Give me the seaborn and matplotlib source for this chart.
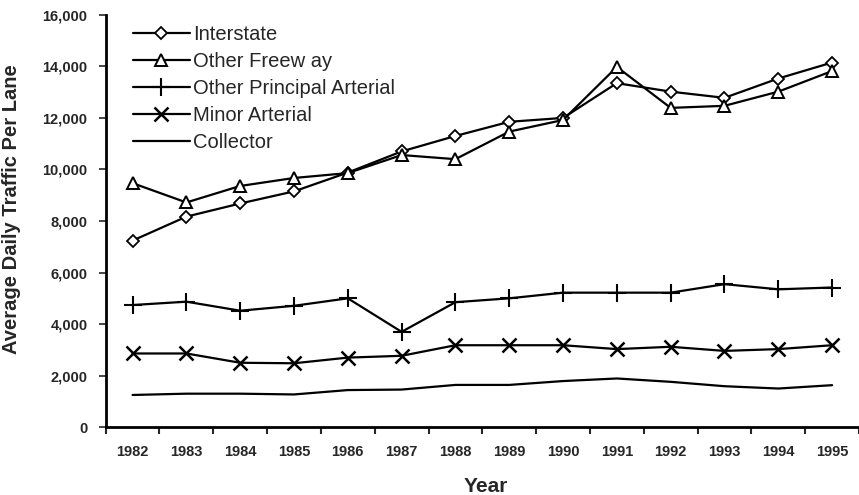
import numpy as np
import pandas as pd
import matplotlib
matplotlib.use("Agg")
import matplotlib.pyplot as plt
import seaborn as sns

# === DATA
years = [str(y) for y in range(1982, 1996)]
interstate = [7240, 8170, 8680, 9150, 9880, 10700, 11300, 11850, 12000, 13350, 13020, 12780, 13530, 14150]
other_freeway = [9470, 8720, 9360, 9670, 9860, 10560, 10400, 11470, 11920, 13980, 12390, 12470, 13020, 13820]
other_principal = [4740, 4870, 4520, 4710, 5000, 3700, 4850, 5000, 5220, 5220, 5220, 5550, 5350, 5420]
minor_arterial = [2860, 2860, 2500, 2480, 2700, 2770, 3180, 3180, 3180, 3030, 3120, 2960, 3030, 3180]
collector = [1250, 1300, 1300, 1270, 1440, 1460, 1640, 1640, 1790, 1890, 1760, 1590, 1500, 1630]

series_names = ["Interstate", "Other Freew ay", "Other Principal Arterial", "Minor Arterial", "Collector"]
series_vals = [interstate, other_freeway, other_principal, minor_arterial, collector]

df = pd.DataFrame({
    "Year": years * len(series_names),
    "idx": list(range(len(years))) * len(series_names),
    "Series": [n for n in series_names for _ in years],
    "Traffic": [v for s in series_vals for v in s],
})

sns.set_style("ticks")
plt.rcParams["font.family"] = ["Liberation Sans", "DejaVu Sans"]

fig = plt.figure(figsize=(8.59, 4.95), dpi=100)
ax = fig.add_axes([0.123, 0.137, 0.877, 0.833])

sns.lineplot(data=df, x="idx", y="Traffic", hue="Series", hue_order=series_names,
             palette=["black"] * len(series_names), ax=ax, lw=1.6, legend=False)

# marker styles per series (applied to the seaborn lines)
styles = {
    "Interstate": dict(marker="D", markersize=6.5, markerfacecolor="white", markeredgewidth=1.3),
    "Other Freew ay": dict(marker="^", markersize=9, markerfacecolor="white", markeredgewidth=1.4),
    "Other Principal Arterial": dict(marker="+", markersize=13, markeredgewidth=1.5),
    "Minor Arterial": dict(marker="x", markersize=10, markeredgewidth=1.8),
    "Collector": dict(marker=""),
}
lines = ax.get_lines()[:len(series_names)]
for line, name in zip(lines, series_names):
    line.set(linestyle="-", color="black", markeredgecolor="black", **styles[name])
    line.set_label(name)

ax.set_xlim(-0.5, 13.29)
ax.set_ylim(0, 16000)
ax.set_yticks(range(0, 16001, 2000))
ax.set_yticklabels([f"{v:,}" for v in range(0, 16001, 2000)], fontsize=10.5, fontweight="bold")
ax.set_xticks(np.arange(-0.5, 13.6, 1))
ax.set_xticklabels([])
ax.set_xticks(range(len(years)), minor=True)
ax.set_xticklabels(years, minor=True, fontsize=10.5, fontweight="bold")
ax.tick_params(axis="x", which="minor", length=0, pad=13)
ax.tick_params(axis="x", which="major", length=5, width=1.5, direction="out")
ax.tick_params(axis="y", length=5, width=1.2, direction="out", pad=8)

for sp in ["top", "right"]:
    ax.spines[sp].set_visible(False)
for sp in ["left", "bottom"]:
    ax.spines[sp].set_linewidth(2)
    ax.spines[sp].set_color("black")

ax.set_xlabel("Year", fontsize=15, fontweight="bold")
ax.xaxis.set_label_coords(0.505, -0.121)
ax.set_ylabel("Average Daily Traffic Per Lane", fontsize=14.5, fontweight="bold")
ax.yaxis.set_label_coords(-0.112, 0.53)

ax.legend(handles=lines, loc="upper left", bbox_to_anchor=(0.025, 0.995), frameon=False, fontsize=14.5,
          handlelength=2.85, handletextpad=0.15, labelspacing=0.4, borderaxespad=0.0)

fig.savefig("out.png", dpi=100)
